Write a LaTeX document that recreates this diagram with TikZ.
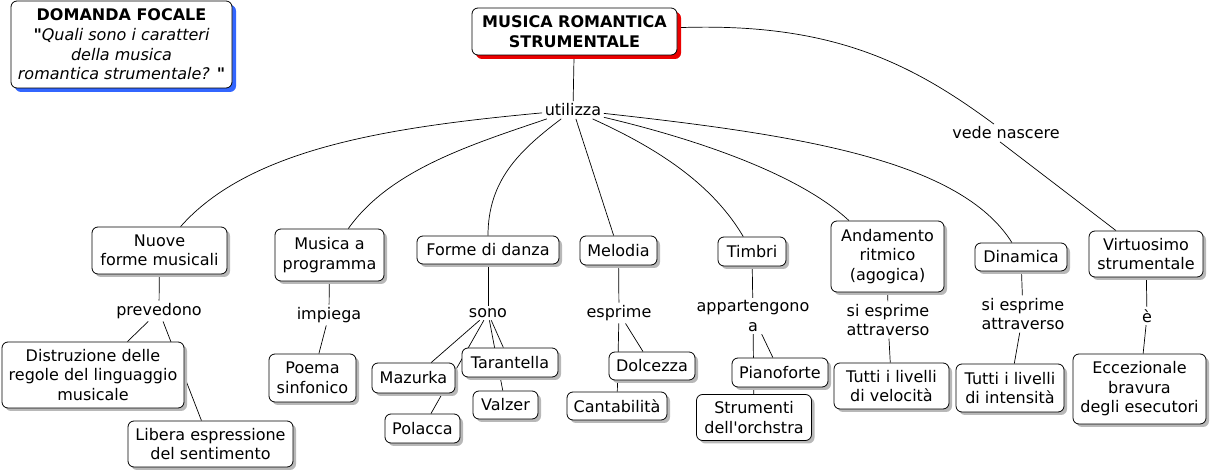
\documentclass[tikz,border=0pt]{standalone}
\usepackage{fontspec}
\setmainfont{DejaVu Sans}[Ligatures=TeXOff]
\usetikzlibrary{shadows,backgrounds}
\definecolor{focalblue}{RGB}{51,102,255}
\definecolor{mainred}{RGB}{235,0,0}
\begin{document}
\begin{tikzpicture}[x=1bp,y=-1bp,
  every node/.style={font=\fontsize{16bp}{19.5bp}\selectfont},
  concept/.style={draw=black, line width=0.8bp, rounded corners=6bp, fill=white, align=center, inner sep=1bp,
    drop shadow={shadow xshift=3bp, shadow yshift=-3bp, fill=black!28, opacity=1}},
  lbl/.style={align=center, inner sep=2.5bp},
  link/.style={draw=black, line width=0.7bp}]
\useasboundingbox (0,0) rectangle (1211,474);

% focal question
\node[concept, drop shadow={shadow xshift=4bp, shadow yshift=-4bp, fill=focalblue, opacity=1},
  minimum width=221bp, minimum height=87bp, font=\fontsize{16bp}{19.7bp}\selectfont] (focal) at (121.5,44.5)
  {\textbf{DOMANDA FOCALE}\\\textbf{"}\textit{Quali sono i caratteri}\\\textit{della musica}\\\textit{romantica strumentale?} \textbf{"}};

% main concept
\node[concept, drop shadow={shadow xshift=4bp, shadow yshift=-4bp, fill=mainred, opacity=1},
  minimum width=205bp, minimum height=47bp] (main) at (574.5,31.5)
  {\textbf{MUSICA ROMANTICA}\\\textbf{STRUMENTALE}};

% linking phrases
\node[lbl] (u) at (573,110) {utilizza};
\node[lbl] (vn) at (1006,133) {vede nascere};
\node[lbl] (prev) at (159,311) {prevedono};
\node[lbl] (impiega) at (329,315) {impiega};
\node[lbl] (sono) at (488,313) {sono};
\node[lbl] (esprime) at (619,313) {esprime};
\node[lbl] (app) at (753,316) {appartengono\\a};
\node[lbl] (sie1) at (888,320) {si esprime\\attraverso};
\node[lbl] (sie2) at (1023,314) {si esprime\\attraverso};
\node[lbl] (e) at (1147,316) {è};

% level 1 concepts
\node[concept, minimum width=135bp, minimum height=47bp] (nuove) at (159.5,250.5) {Nuove\\forme musicali};
\node[concept, minimum width=109bp, minimum height=52bp] (musica) at (329.5,255) {Musica a\\programma};
\node[concept, minimum width=142bp, minimum height=28bp] (forme) at (488,250) {Forme di danza};
\node[concept, minimum width=77bp, minimum height=29bp] (melodia) at (618.5,250.5) {Melodia};
\node[concept, minimum width=68bp, minimum height=29bp] (timbri) at (752,251.5) {Timbri};
\node[concept, minimum width=113bp, minimum height=71bp] (andam) at (887.5,256.5) {Andamento\\ritmico\\(agogica)};
\node[concept, minimum width=92bp, minimum height=28bp] (dinam) at (1021,257) {Dinamica};
\node[concept, minimum width=114bp, minimum height=46bp] (virt) at (1146,254) {Virtuosimo\\strumentale};

% level 2 concepts
\node[concept, minimum width=182bp, minimum height=66bp] (distr) at (93,375) {Distruzione delle\\regole del linguaggio\\musicale};
\node[concept, minimum width=165bp, minimum height=46bp] (libera) at (210.5,444) {Libera espressione\\del sentimento};
\node[concept, minimum width=87bp, minimum height=48bp] (poema) at (312.5,378) {Poema\\sinfonico};
\node[concept, minimum width=83bp, minimum height=30bp] (mazurka) at (413.5,378) {Mazurka};
\node[concept, minimum width=96bp, minimum height=29bp] (tarant) at (510,362.5) {Tarantella};
\node[concept, minimum width=65bp, minimum height=28bp] (valzer) at (505.5,405) {Valzer};
\node[concept, minimum width=75bp, minimum height=29bp] (polacca) at (422.5,428.5) {Polacca};
\node[concept, minimum width=86bp, minimum height=28bp] (dolc) at (652,366) {Dolcezza};
\node[concept, minimum width=100bp, minimum height=28bp] (cantab) at (617,406) {Cantabilità};
\node[concept, minimum width=96bp, minimum height=29bp] (piano) at (780,372.5) {Pianoforte};
\node[concept, minimum width=115bp, minimum height=46bp] (strum) at (754,417.5) {Strumenti\\dell'orchstra};
\node[concept, minimum width=115bp, minimum height=46bp] (tvel) at (891.5,386) {Tutti i livelli\\di velocità};
\node[concept, minimum width=108bp, minimum height=48bp] (tint) at (1010,388) {Tutti i livelli\\di intensità};
\node[concept, minimum width=133bp, minimum height=70bp] (eccez) at (1139.5,389) {Eccezionale\\bravura\\degli esecutori};

\begin{scope}[on background layer]
  \draw[link] (main) -- (u);
  \draw[link] (u) .. controls (390,127) and (250,148) .. (nuove);
  \draw[link] (u) .. controls (470,145) and (390,170) .. (musica);
  \draw[link] (u) .. controls (520,150) and (488,180) .. (forme);
  \draw[link] (u) -- (melodia);
  \draw[link] (u) .. controls (650,145) and (710,180) .. (timbri);
  \draw[link] (u) .. controls (700,140) and (800,175) .. (andam);
  \draw[link] (u) .. controls (800,135) and (960,160) .. (dinam);
  \draw[link] (main) .. controls (830,22) and (910,62) .. (vn);
  \draw[link] ([xshift=-6bp]vn.south) -- ([xshift=-30bp]virt.north);

  \draw[link] (nuove) -- (prev);
  \draw[link] (prev) -- (distr);
  \draw[link] (prev) -- (libera);
  \draw[link] (musica) -- (impiega);
  \draw[link] (impiega) -- (poema);
  \draw[link] (forme) -- (sono);
  \draw[link] (sono) -- (mazurka);
  \draw[link] (sono) -- (polacca);
  \draw[link] (sono) -- (tarant);
  \draw[link] (sono) -- (valzer);
  \draw[link] (melodia) -- (esprime);
  \draw[link] (esprime) -- (dolc);
  \draw[link] (esprime) -- (cantab);
  \draw[link] (timbri) -- (app);
  \draw[link] (app) -- (piano);
  \draw[link] (app) -- (strum);
  \draw[link] (andam) -- (sie1);
  \draw[link] (sie1) -- (tvel);
  \draw[link] (dinam) -- (sie2);
  \draw[link] (sie2) -- (tint);
  \draw[link] (virt) -- (e);
  \draw[link] (e) -- (eccez);
\end{scope}
\end{tikzpicture}
\end{document}
